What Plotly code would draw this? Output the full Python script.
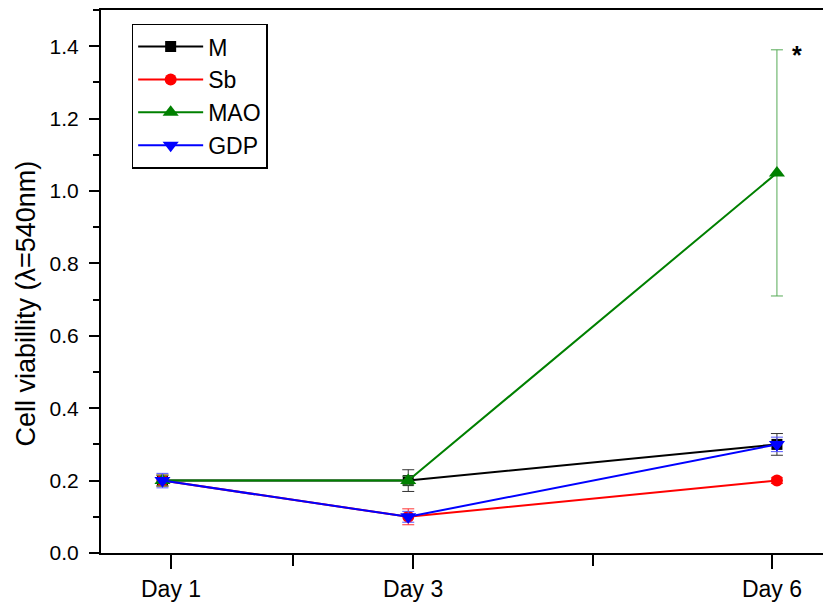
import plotly.graph_objects as go

# ---- data ----
days = [1, 3, 6]
tick_positions = [1.07, 3.04, 5.96]
tick_labels = ["Day 1", "Day 3", "Day 6"]
minor_tick_positions = [2.06, 4.5]

series_names = ["M", "Sb", "MAO", "GDP"]
m_vals = [0.2, 0.2, 0.3]
m_err = [0.015, 0.03, 0.03]
sb_vals = [0.2, 0.1, 0.2]
sb_err = [0.015, 0.022, 0.008]
mao_vals = [0.2, 0.2, 1.05]
mao_err = [0.015, 0.012, 0.34]
gdp_vals = [0.2, 0.1, 0.3]
gdp_err = [0.02, 0.015, 0.02]

y_title = "Cell viabillity (λ=540nm)"
star_x = 6.16
star_y = 1.375

FONT = "Liberation Sans, Arial, sans-serif"

styles = [
    (series_names[0], m_vals, m_err, "#000000", "#333333", "square", 11),
    (series_names[1], sb_vals, sb_err, "#ff0000", "#ff3333", "circle", 12),
    (series_names[2], mao_vals, mao_err, "#008000", "#55aa55", "triangle-up", 14),
    (series_names[3], gdp_vals, gdp_err, "#0000ff", "#5555ff", "triangle-down", 14),
]

fig = go.Figure()
for name, vals, err, col, ecol, sym, sz in styles:
    fig.add_trace(go.Scatter(
        x=days, y=vals, name=name, mode="lines+markers",
        line=dict(color=col, width=2),
        marker=dict(symbol=sym, size=sz, color=col, line=dict(width=0)),
        error_y=dict(type="data", array=err, visible=True, color=ecol,
                     thickness=1, width=6),
    ))

fig.add_annotation(x=star_x, y=star_y, xref="x", yref="y", text="<b>*</b>",
                   showarrow=False, font=dict(family=FONT, size=25, color="black"))

# y-axis title as rotated text (positioned like the original, slightly below centre)
fig.add_annotation(x=0, y=0.5, xref="paper", yref="paper", text=y_title,
                   textangle=-90, showarrow=False, xanchor="center", yanchor="middle",
                   xshift=-76, yshift=-22,
                   font=dict(family=FONT, size=27, color="black"))

# page body has an 8px margin, so the figure is sized 823x600
fig.update_layout(
    width=823, height=600,
    margin=dict(l=93, r=0, t=0, b=55),
    paper_bgcolor="white", plot_bgcolor="white",
    font=dict(family=FONT, color="black"),
    showlegend=True,
    legend=dict(
        x=0.042, y=0.975, xanchor="left", yanchor="top",
        bordercolor="black", borderwidth=1.5, bgcolor="white",
        font=dict(family=FONT, size=23, color="black"),
        tracegroupgap=0, itemsizing="trace", itemwidth=65,
    ),
    xaxis=dict(
        range=[0.5, 6.44],
        tickmode="array", tickvals=tick_positions, ticktext=tick_labels,
        ticks="outside", ticklen=14, tickwidth=2, tickcolor="black",
        tickfont=dict(family=FONT, size=23, color="black"),
        showline=True, linewidth=2, linecolor="black", mirror=True,
        showgrid=False, zeroline=False,
        minor=dict(tickmode="array", tickvals=minor_tick_positions,
                   ticks="outside", ticklen=11, tickwidth=2, tickcolor="black",
                   showgrid=False),
    ),
    yaxis=dict(
        range=[0, 1.5],
        tickmode="linear", tick0=0, dtick=0.2, tickformat=".1f",
        ticks="outside", ticklen=10, tickwidth=2, tickcolor="black",
        tickfont=dict(family=FONT, size=21, color="black"),
        ticklabelstandoff=6,
        showline=True, linewidth=2, linecolor="black", mirror=False,
        showgrid=False, zeroline=False,
        minor=dict(dtick=0.1, ticks="outside", ticklen=6, tickwidth=2,
                   tickcolor="black", showgrid=False),
    ),
)

fig.write_html("out.html")
